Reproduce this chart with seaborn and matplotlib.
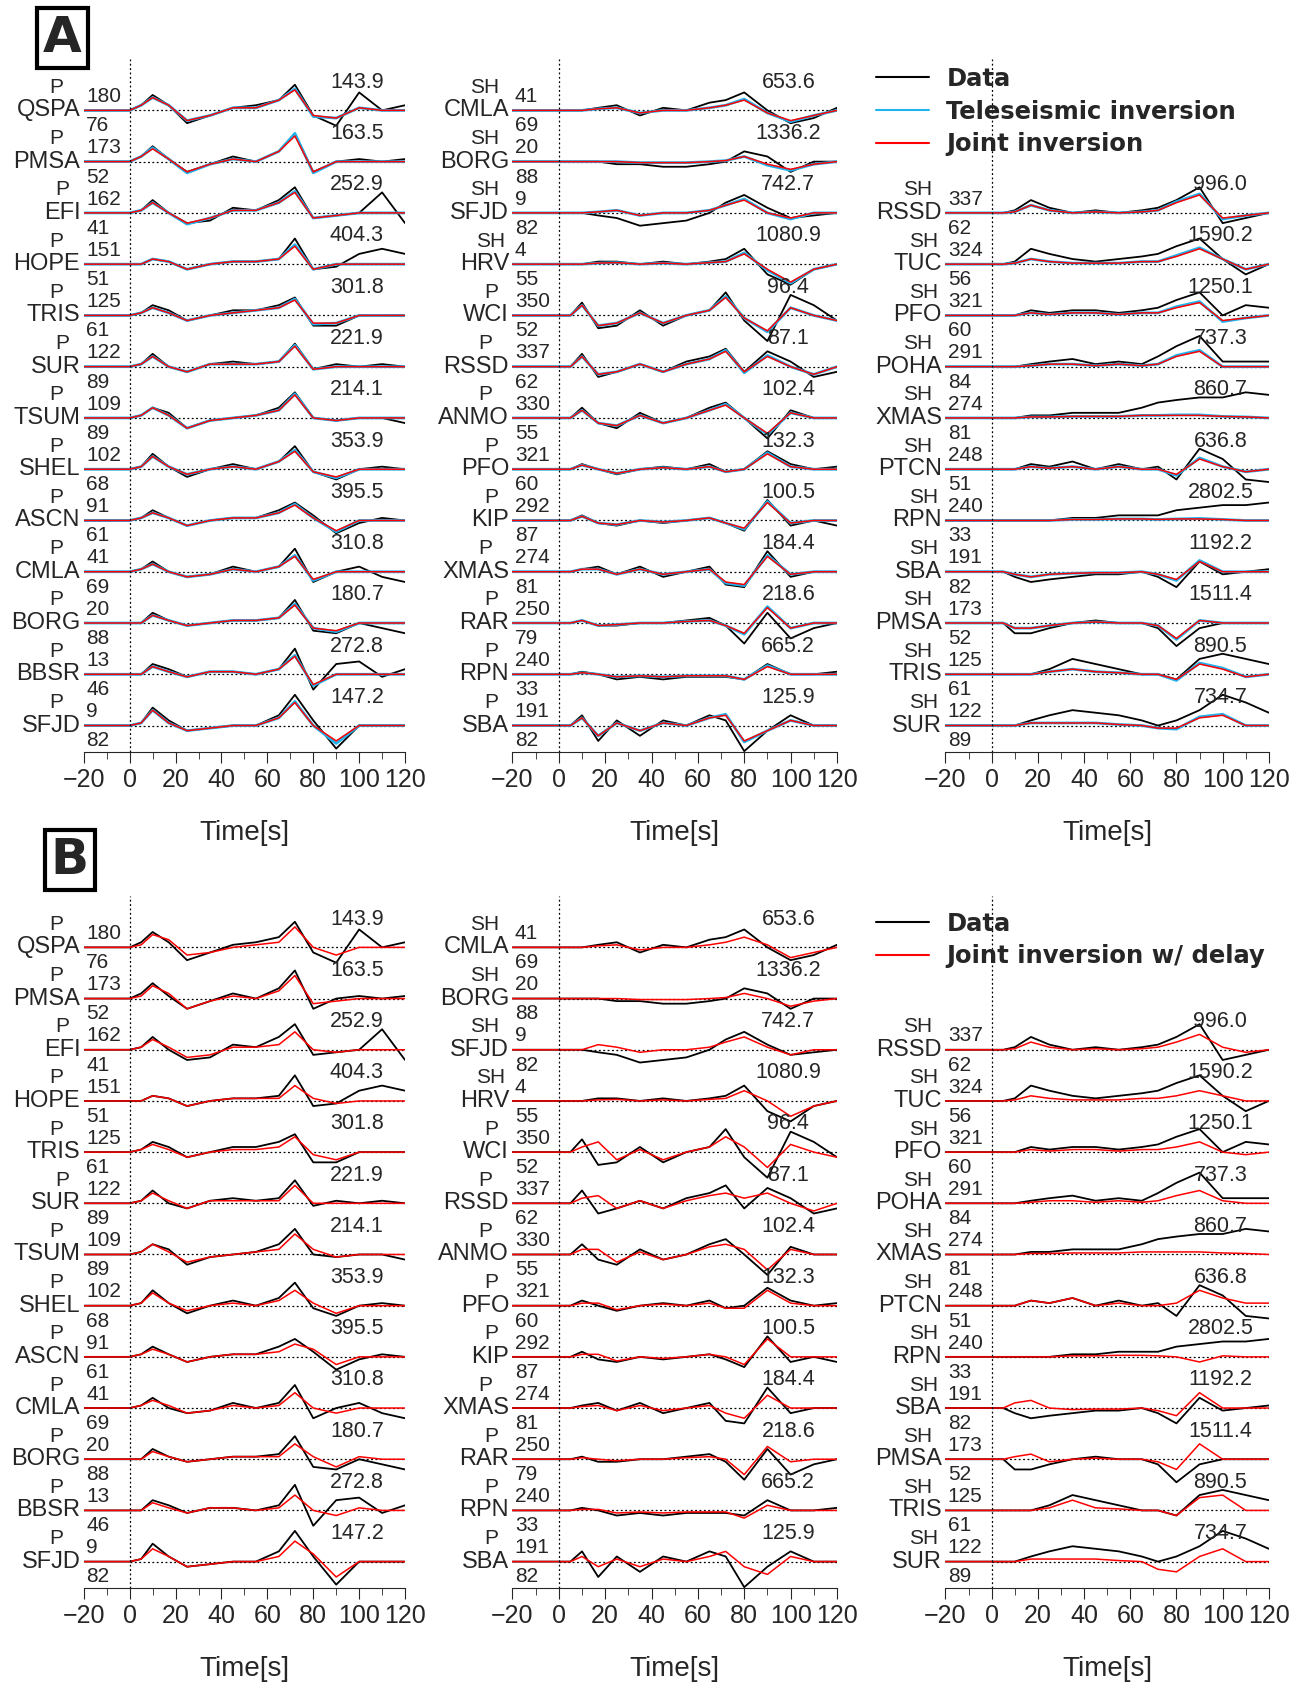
import numpy as np
import pandas as pd
import seaborn as sns
import matplotlib.pyplot as plt
from matplotlib.lines import Line2D

# sample times (s) of the waveform values, trace is flat before 0
T = [0, 5, 10, 17, 25, 35, 45, 55, 65, 72, 80, 90, 100, 110, 120]

# ---- station info per column: phase, name, azimuth, distance, amplitude
left_phase = ["P"] * 13
left_names = ["QSPA", "PMSA", "EFI", "HOPE", "TRIS", "SUR", "TSUM", "SHEL", "ASCN", "CMLA", "BORG", "BBSR", "SFJD"]
left_az = [180, 173, 162, 151, 125, 122, 109, 102, 91, 41, 20, 13, 9]
left_dist = [76, 52, 41, 51, 61, 89, 89, 68, 61, 69, 88, 46, 82]
left_amp = ["143.9", "163.5", "252.9", "404.3", "301.8", "221.9", "214.1", "353.9", "395.5", "310.8", "180.7", "272.8", "147.2"]

mid_phase = ["SH", "SH", "SH", "SH", "P", "P", "P", "P", "P", "P", "P", "P", "P"]
mid_names = ["CMLA", "BORG", "SFJD", "HRV", "WCI", "RSSD", "ANMO", "PFO", "KIP", "XMAS", "RAR", "RPN", "SBA"]
mid_az = [41, 20, 9, 4, 350, 337, 330, 321, 292, 274, 250, 240, 191]
mid_dist = [69, 88, 82, 55, 52, 62, 55, 60, 87, 81, 79, 33, 82]
mid_amp = ["653.6", "1336.2", "742.7", "1080.9", "96.4", "87.1", "102.4", "132.3", "100.5", "184.4", "218.6", "665.2", "125.9"]

right_phase = ["SH"] * 11
right_names = ["RSSD", "TUC", "PFO", "POHA", "XMAS", "PTCN", "RPN", "SBA", "PMSA", "TRIS", "SUR"]
right_az = [337, 324, 321, 291, 274, 248, 240, 191, 173, 125, 122]
right_dist = [62, 56, 60, 84, 81, 51, 33, 82, 52, 61, 89]
right_amp = ["996.0", "1590.2", "1250.1", "737.3", "860.7", "636.8", "2802.5", "1192.2", "1511.4", "890.5", "734.7"]

# ---- observed data (row spacing = 1)
left_data = [
    [0, 0.1, 0.3, 0.1, -0.25, -0.1, 0.05, 0.1, 0.2, 0.5, -0.1, -0.3, 0.35, 0.0, 0.1],
    [0, 0.1, 0.3, 0.05, -0.2, -0.05, 0.1, 0.0, 0.2, 0.55, -0.2, 0.0, 0.05, 0.0, 0.05],
    [0, 0.05, 0.25, 0.0, -0.2, -0.15, 0.1, 0.05, 0.25, 0.5, -0.1, -0.05, 0.0, 0.4, -0.2],
    [0, 0.0, 0.1, 0.05, -0.1, 0.0, 0.05, 0.05, 0.1, 0.5, -0.1, -0.05, 0.2, 0.3, 0.2],
    [0, 0.05, 0.2, 0.1, -0.1, 0.0, 0.1, 0.1, 0.2, 0.35, -0.2, -0.2, 0.0, 0.0, 0.0],
    [0, 0.05, 0.25, 0.0, -0.1, 0.05, 0.1, 0.05, 0.1, 0.45, -0.05, 0.05, 0.0, 0.05, 0.0],
    [0, 0.05, 0.2, 0.1, -0.2, -0.05, 0.0, 0.05, 0.2, 0.5, 0.0, -0.05, 0.0, 0.0, -0.1],
    [0, 0.05, 0.3, 0.05, -0.15, 0.0, 0.1, 0.0, 0.15, 0.45, -0.05, -0.2, 0.0, 0.05, 0.0],
    [0, 0.05, 0.2, 0.05, -0.1, 0.0, 0.05, 0.05, 0.2, 0.35, 0.1, -0.25, -0.05, 0.05, 0.0],
    [0, 0.05, 0.2, 0.0, -0.1, -0.05, 0.1, 0.0, 0.1, 0.45, -0.2, 0.0, 0.1, -0.1, -0.2],
    [0, 0.0, 0.2, 0.05, -0.05, 0.0, 0.05, 0.05, 0.1, 0.45, -0.15, -0.2, 0.0, -0.1, -0.2],
    [0, 0.0, 0.2, 0.1, -0.05, 0.05, 0.05, 0.0, 0.1, 0.5, -0.3, 0.2, 0.25, -0.05, 0.1],
    [0, 0.05, 0.35, 0.1, -0.1, -0.05, 0.0, 0.0, 0.2, 0.6, 0.1, -0.45, 0.0, 0.0, 0.0],
]
mid_data = [
    [0, 0, 0, 0.05, 0.1, -0.1, 0.05, 0.0, 0.15, 0.2, 0.35, 0.0, -0.25, -0.15, 0.05],
    [0, 0, 0, 0.0, -0.05, -0.05, -0.1, -0.1, -0.05, 0.0, 0.2, 0.1, -0.2, 0.0, 0.0],
    [0, 0, 0, -0.05, -0.1, -0.25, -0.2, -0.15, 0.0, 0.2, 0.35, 0.1, -0.1, -0.05, 0.0],
    [0, 0, 0, 0.05, 0.05, 0.0, 0.05, 0.0, 0.05, 0.1, 0.3, -0.2, -0.4, -0.1, 0.0],
    [0, 0, 0.25, -0.25, -0.2, 0.1, -0.2, 0.0, 0.1, 0.45, -0.1, -0.5, 0.4, 0.2, -0.1],
    [0, 0, 0.25, -0.2, -0.1, 0.05, -0.1, 0.1, 0.2, 0.35, -0.1, 0.3, 0.1, -0.2, -0.1],
    [0, 0, 0.2, -0.1, -0.2, 0.1, -0.1, 0.0, 0.2, 0.3, 0.0, -0.4, 0.15, 0.0, 0.0],
    [0, 0, 0.1, 0.0, -0.1, 0.0, 0.05, 0.0, 0.1, -0.05, 0.0, 0.35, 0.1, 0.0, 0.05],
    [0, 0, 0.1, -0.05, -0.1, 0.0, -0.05, 0.0, 0.05, -0.05, -0.2, 0.4, -0.1, 0.0, -0.1],
    [0, 0, 0.05, 0.1, -0.05, 0.1, -0.1, 0.0, 0.1, -0.25, -0.3, 0.4, -0.1, 0.0, 0.0],
    [0, 0, 0.05, -0.05, -0.05, 0.0, 0.0, 0.05, 0.1, -0.05, -0.4, 0.2, -0.3, -0.1, 0.0],
    [0, 0, 0.05, 0.0, -0.1, -0.05, -0.1, -0.05, -0.05, -0.05, -0.1, 0.2, 0.0, 0.0, 0.05],
    [0, 0, 0.2, -0.3, 0.1, -0.2, 0.1, 0.0, 0.2, 0.1, -0.5, -0.1, 0.2, 0.0, 0.0],
]
right_data = [
    [0, 0, 0.05, 0.25, 0.1, 0.0, 0.05, 0.0, 0.05, 0.1, 0.25, 0.5, -0.2, -0.1, 0.0],
    [0, 0, 0.05, 0.3, 0.2, 0.1, 0.05, 0.1, 0.15, 0.2, 0.35, 0.5, 0.1, -0.2, 0.0],
    [0, 0, 0.0, 0.1, 0.05, 0.1, 0.1, 0.05, 0.1, 0.15, 0.3, 0.45, 0.0, 0.2, 0.15],
    [0, 0, 0.0, 0.05, 0.1, 0.15, 0.05, 0.1, 0.05, 0.2, 0.4, 0.6, 0.1, 0.1, 0.1],
    [0, 0, 0.0, 0.05, 0.05, 0.1, 0.1, 0.1, 0.2, 0.3, 0.35, 0.4, 0.4, 0.5, 0.45],
    [0, 0, 0.0, 0.1, 0.05, 0.15, 0.0, 0.1, 0.0, 0.05, -0.2, 0.4, 0.2, -0.2, -0.25],
    [0, 0, 0.0, 0.0, 0.0, 0.05, 0.05, 0.1, 0.1, 0.1, 0.2, 0.25, 0.3, 0.3, 0.35],
    [0, 0, -0.1, -0.2, -0.15, -0.1, -0.05, -0.05, 0.0, -0.1, -0.3, 0.2, -0.05, 0.0, 0.05],
    [0, 0, -0.2, -0.2, -0.1, 0.0, 0.05, 0.0, 0.0, -0.1, -0.45, -0.1, 0.0, 0.0, 0.0],
    [0, 0, 0.0, 0.0, 0.1, 0.3, 0.2, 0.1, 0.0, 0.0, -0.1, 0.3, 0.4, 0.3, 0.2],
    [0, 0, 0.0, 0.1, 0.2, 0.3, 0.25, 0.2, 0.1, 0.0, 0.1, 0.3, 0.6, 0.45, 0.25],
]

# ---- joint inversion synthetics (panel A)
left_joint = [
    [0, 0.1, 0.25, 0.1, -0.2, -0.1, 0.05, 0.05, 0.2, 0.4, -0.1, -0.15, 0.05, 0.0, 0.0],
    [0, 0.1, 0.25, 0.05, -0.2, -0.05, 0.05, 0.0, 0.2, 0.5, -0.2, 0.0, 0.0, 0.0, 0.0],
    [0, 0.05, 0.2, 0.0, -0.2, -0.1, 0.05, 0.05, 0.2, 0.4, -0.1, -0.05, 0.0, 0.0, 0.0],
    [0, 0.0, 0.1, 0.05, -0.1, 0.0, 0.05, 0.05, 0.1, 0.35, -0.1, 0.0, 0.0, 0.0, 0.0],
    [0, 0.05, 0.15, 0.05, -0.1, 0.0, 0.05, 0.1, 0.15, 0.3, -0.15, -0.15, 0.0, 0.0, 0.0],
    [0, 0.05, 0.2, 0.0, -0.1, 0.05, 0.05, 0.05, 0.1, 0.4, -0.05, 0.0, 0.0, 0.0, 0.0],
    [0, 0.05, 0.2, 0.05, -0.2, -0.05, 0.0, 0.05, 0.15, 0.45, 0.0, -0.05, 0.0, 0.0, 0.0],
    [0, 0.05, 0.25, 0.05, -0.1, 0.0, 0.05, 0.0, 0.15, 0.35, -0.05, -0.15, 0.0, 0.0, 0.0],
    [0, 0.05, 0.15, 0.05, -0.1, 0.0, 0.05, 0.05, 0.15, 0.3, 0.05, -0.2, 0.0, 0.0, 0.0],
    [0, 0.05, 0.15, 0.0, -0.1, -0.05, 0.05, 0.0, 0.1, 0.3, -0.15, 0.0, 0.0, 0.0, 0.0],
    [0, 0.0, 0.15, 0.05, -0.05, 0.0, 0.05, 0.05, 0.1, 0.35, -0.1, -0.15, 0.0, 0.0, 0.0],
    [0, 0.0, 0.15, 0.05, -0.05, 0.05, 0.05, 0.0, 0.1, 0.35, -0.2, 0.0, 0.0, 0.0, 0.0],
    [0, 0.05, 0.3, 0.05, -0.1, -0.05, 0.0, 0.0, 0.15, 0.45, 0.0, -0.3, 0.0, 0.0, 0.0],
]
mid_joint = [
    [0, 0, 0, 0.03, 0.05, -0.05, 0.0, 0.0, 0.05, 0.1, 0.2, -0.05, -0.2, -0.1, 0.0],
    [0, 0, 0, 0.0, 0.0, -0.02, -0.02, -0.02, 0.0, 0.02, 0.1, -0.05, -0.15, -0.05, 0.0],
    [0, 0, 0, 0.02, 0.05, -0.05, 0.0, 0.0, 0.05, 0.15, 0.25, 0.0, -0.1, 0.0, 0.0],
    [0, 0, 0, 0.02, 0.03, 0.0, 0.02, 0.0, 0.03, 0.05, 0.2, -0.1, -0.35, -0.1, 0.0],
    [0, 0, 0.2, -0.2, -0.15, 0.05, -0.15, 0.0, 0.1, 0.35, -0.05, -0.3, 0.15, 0.0, -0.1],
    [0, 0, 0.2, -0.15, -0.1, 0.05, -0.1, 0.05, 0.15, 0.3, -0.1, 0.2, 0.0, -0.15, 0.0],
    [0, 0, 0.15, -0.1, -0.15, 0.05, -0.1, 0.0, 0.15, 0.25, 0.0, -0.3, 0.1, 0.0, 0.0],
    [0, 0, 0.08, 0.0, -0.08, 0.0, 0.03, 0.0, 0.05, -0.05, 0.0, 0.3, 0.05, 0.0, 0.0],
    [0, 0, 0.08, -0.05, -0.08, 0.0, -0.03, 0.0, 0.05, -0.05, -0.15, 0.35, -0.05, 0.0, 0.0],
    [0, 0, 0.05, 0.05, -0.05, 0.05, -0.05, 0.0, 0.05, -0.2, -0.25, 0.3, -0.05, 0.0, 0.0],
    [0, 0, 0.05, -0.05, -0.03, 0.0, 0.0, 0.03, 0.05, -0.05, -0.2, 0.3, -0.1, 0.0, 0.0],
    [0, 0, 0.03, 0.0, -0.05, -0.03, -0.05, -0.03, -0.03, -0.03, -0.1, 0.15, 0.0, 0.0, 0.0],
    [0, 0, 0.15, -0.2, 0.05, -0.1, 0.05, 0.0, 0.15, 0.2, -0.3, -0.1, 0.1, 0.0, 0.0],
]
right_joint = [
    [0, 0, 0.02, 0.15, 0.05, 0.0, 0.02, 0.0, 0.02, 0.05, 0.2, 0.35, -0.1, -0.05, 0.0],
    [0, 0, 0.02, 0.1, 0.05, 0.02, 0.02, 0.02, 0.05, 0.05, 0.15, 0.3, 0.1, -0.1, 0.0],
    [0, 0, 0.0, 0.05, 0.02, 0.05, 0.05, 0.02, 0.05, 0.05, 0.15, 0.25, -0.1, -0.05, 0.0],
    [0, 0, 0.0, 0.02, 0.05, 0.05, 0.02, 0.05, 0.02, 0.05, 0.2, 0.3, 0.0, 0.0, 0.0],
    [0, 0, 0.0, 0.02, 0.02, 0.03, 0.03, 0.03, 0.05, 0.05, 0.05, 0.05, 0.03, 0.02, 0.0],
    [0, 0, 0.0, 0.05, 0.02, 0.05, 0.0, 0.05, 0.0, 0.0, -0.1, 0.2, 0.05, -0.05, 0.0],
    [0, 0, 0.0, 0.0, 0.0, 0.02, 0.02, 0.03, 0.03, 0.02, 0.03, 0.03, 0.02, 0.0, 0.0],
    [0, 0, -0.05, -0.1, -0.05, -0.03, -0.02, -0.02, 0.0, -0.05, -0.15, 0.2, 0.0, 0.0, 0.0],
    [0, 0, -0.1, -0.1, -0.05, 0.0, 0.02, 0.0, 0.0, -0.05, -0.3, 0.05, 0.0, 0.0, 0.0],
    [0, 0, 0.0, 0.0, 0.05, 0.1, 0.05, 0.03, 0.0, 0.0, -0.1, 0.2, 0.1, -0.05, 0.0],
    [0, 0, 0.0, 0.05, 0.05, 0.05, 0.05, 0.02, 0.0, -0.05, -0.05, 0.15, 0.2, 0.0, 0.0],
]

# ---- teleseismic inversion synthetics (panel A)
left_tele = [
    [0, 0.1, 0.25, 0.1, -0.2, -0.1, 0.05, 0.05, 0.2, 0.42, -0.12, -0.15, 0.05, 0.0, 0.0],
    [0, 0.1, 0.27, 0.05, -0.22, -0.05, 0.05, 0.0, 0.2, 0.55, -0.22, 0.0, 0.0, 0.0, 0.0],
    [0, 0.05, 0.2, 0.0, -0.22, -0.1, 0.05, 0.05, 0.2, 0.42, -0.1, -0.05, 0.0, 0.0, 0.0],
    [0, 0.0, 0.1, 0.05, -0.1, 0.0, 0.05, 0.05, 0.1, 0.38, -0.1, 0.0, 0.0, 0.0, 0.0],
    [0, 0.05, 0.15, 0.05, -0.1, 0.0, 0.05, 0.1, 0.15, 0.32, -0.17, -0.15, 0.0, 0.0, 0.0],
    [0, 0.05, 0.2, 0.0, -0.1, 0.05, 0.05, 0.05, 0.1, 0.42, -0.05, 0.0, 0.0, 0.0, 0.0],
    [0, 0.05, 0.2, 0.05, -0.2, -0.05, 0.0, 0.05, 0.15, 0.47, 0.0, -0.05, 0.0, 0.0, 0.0],
    [0, 0.05, 0.25, 0.05, -0.1, 0.0, 0.05, 0.0, 0.15, 0.37, -0.05, -0.17, 0.0, 0.0, 0.0],
    [0, 0.05, 0.15, 0.05, -0.1, 0.0, 0.05, 0.05, 0.15, 0.32, 0.05, -0.22, 0.0, 0.0, 0.0],
    [0, 0.05, 0.15, 0.0, -0.1, -0.05, 0.05, 0.0, 0.1, 0.32, -0.17, 0.0, 0.0, 0.0, 0.0],
    [0, 0.0, 0.15, 0.05, -0.05, 0.0, 0.05, 0.05, 0.1, 0.37, -0.1, -0.17, 0.0, 0.0, 0.0],
    [0, 0.0, 0.15, 0.05, -0.05, 0.05, 0.05, 0.0, 0.1, 0.37, -0.22, 0.0, 0.0, 0.0, 0.0],
    [0, 0.05, 0.3, 0.05, -0.1, -0.05, 0.0, 0.0, 0.15, 0.47, 0.0, -0.35, 0.0, 0.0, 0.0],
]
mid_tele = [
    [0, 0, 0, 0.03, 0.05, -0.05, 0.0, 0.0, 0.05, 0.1, 0.22, -0.05, -0.22, -0.1, 0.0],
    [0, 0, 0, 0.0, 0.0, -0.02, -0.02, -0.02, 0.0, 0.02, 0.1, -0.07, -0.17, -0.05, 0.0],
    [0, 0, 0, 0.02, 0.05, -0.05, 0.0, 0.0, 0.05, 0.15, 0.27, 0.0, -0.12, 0.0, 0.0],
    [0, 0, 0, 0.02, 0.03, 0.0, 0.02, 0.0, 0.03, 0.05, 0.22, -0.12, -0.37, -0.1, 0.0],
    [0, 0, 0.2, -0.2, -0.15, 0.05, -0.15, 0.0, 0.1, 0.37, -0.05, -0.32, 0.15, 0.0, -0.1],
    [0, 0, 0.2, -0.15, -0.1, 0.05, -0.1, 0.05, 0.15, 0.32, -0.12, 0.22, 0.0, -0.15, 0.0],
    [0, 0, 0.15, -0.1, -0.15, 0.05, -0.1, 0.0, 0.15, 0.27, 0.0, -0.32, 0.1, 0.0, 0.0],
    [0, 0, 0.08, 0.0, -0.08, 0.0, 0.03, 0.0, 0.05, -0.05, 0.0, 0.32, 0.05, 0.0, 0.0],
    [0, 0, 0.08, -0.05, -0.08, 0.0, -0.03, 0.0, 0.05, -0.05, -0.17, 0.37, -0.05, 0.0, 0.0],
    [0, 0, 0.05, 0.05, -0.05, 0.05, -0.05, 0.0, 0.05, -0.22, -0.27, 0.32, -0.05, 0.0, 0.0],
    [0, 0, 0.05, -0.05, -0.03, 0.0, 0.0, 0.03, 0.05, -0.05, -0.22, 0.32, -0.1, 0.0, 0.0],
    [0, 0, 0.03, 0.0, -0.05, -0.03, -0.05, -0.03, -0.03, -0.03, -0.1, 0.17, 0.0, 0.0, 0.0],
    [0, 0, 0.15, -0.2, 0.05, -0.1, 0.05, 0.0, 0.15, 0.22, -0.32, -0.1, 0.1, 0.0, 0.0],
]
right_tele = [
    [0, 0, 0.02, 0.15, 0.05, 0.0, 0.02, 0.0, 0.02, 0.05, 0.22, 0.37, -0.12, -0.05, 0.0],
    [0, 0, 0.02, 0.1, 0.05, 0.02, 0.02, 0.02, 0.05, 0.05, 0.17, 0.32, 0.1, -0.1, 0.0],
    [0, 0, 0.0, 0.05, 0.02, 0.05, 0.05, 0.02, 0.05, 0.05, 0.17, 0.27, -0.12, -0.05, 0.0],
    [0, 0, 0.0, 0.02, 0.05, 0.05, 0.02, 0.05, 0.02, 0.05, 0.22, 0.32, 0.0, 0.0, 0.0],
    [0, 0, 0.0, 0.02, 0.02, 0.03, 0.03, 0.03, 0.05, 0.05, 0.06, 0.06, 0.03, 0.02, 0.0],
    [0, 0, 0.0, 0.05, 0.02, 0.05, 0.0, 0.05, 0.0, 0.0, -0.12, 0.22, 0.05, -0.05, 0.0],
    [0, 0, 0.0, 0.0, 0.0, 0.02, 0.02, 0.03, 0.03, 0.02, 0.03, 0.04, 0.02, 0.0, 0.0],
    [0, 0, -0.05, -0.1, -0.05, -0.03, -0.02, -0.02, 0.0, -0.05, -0.17, 0.22, 0.0, 0.0, 0.0],
    [0, 0, -0.1, -0.1, -0.05, 0.0, 0.02, 0.0, 0.0, -0.05, -0.32, 0.05, 0.0, 0.0, 0.0],
    [0, 0, 0.0, 0.0, 0.05, 0.1, 0.05, 0.03, 0.0, 0.0, -0.12, 0.22, 0.12, -0.05, 0.0],
    [0, 0, 0.0, 0.05, 0.05, 0.05, 0.05, 0.02, 0.0, -0.05, -0.07, 0.17, 0.22, 0.0, 0.0],
]

# ---- joint inversion with delay (panel B)
left_delay = [
    [0, 0.05, 0.25, 0.15, -0.15, -0.1, 0.0, 0.05, 0.1, 0.4, 0.0, -0.15, 0.0, 0.0, 0.0],
    [0, 0.05, 0.25, 0.1, -0.2, -0.05, 0.05, 0.0, 0.15, 0.45, -0.1, -0.05, 0.0, 0.0, 0.0],
    [0, 0.05, 0.2, 0.05, -0.15, -0.1, 0.05, 0.05, 0.1, 0.35, 0.0, -0.05, 0.0, 0.0, 0.0],
    [0, 0.0, 0.1, 0.05, -0.1, 0.0, 0.05, 0.05, 0.05, 0.3, 0.05, -0.05, 0.0, 0.0, 0.0],
    [0, 0.05, 0.15, 0.05, -0.1, 0.0, 0.05, 0.05, 0.1, 0.3, -0.05, -0.15, 0.0, 0.0, 0.0],
    [0, 0.05, 0.2, 0.05, -0.1, 0.05, 0.05, 0.05, 0.05, 0.35, 0.0, 0.0, 0.0, 0.0, 0.0],
    [0, 0.05, 0.2, 0.05, -0.15, -0.05, 0.0, 0.05, 0.1, 0.4, 0.1, -0.05, 0.0, 0.0, 0.0],
    [0, 0.05, 0.25, 0.05, -0.1, 0.0, 0.05, 0.0, 0.1, 0.3, 0.05, -0.15, 0.0, 0.0, 0.0],
    [0, 0.05, 0.15, 0.05, -0.1, 0.0, 0.05, 0.05, 0.1, 0.25, 0.15, -0.15, 0.0, 0.0, 0.0],
    [0, 0.05, 0.15, 0.05, -0.1, -0.05, 0.05, 0.0, 0.05, 0.3, 0.0, -0.1, 0.0, 0.0, 0.0],
    [0, 0.0, 0.15, 0.05, -0.05, 0.0, 0.05, 0.05, 0.05, 0.3, 0.05, -0.15, 0.05, 0.0, 0.0],
    [0, 0.0, 0.15, 0.05, -0.05, 0.05, 0.05, 0.0, 0.05, 0.3, 0.0, -0.1, 0.05, 0.0, 0.0],
    [0, 0.05, 0.25, 0.1, -0.1, -0.05, 0.0, 0.0, 0.1, 0.4, 0.15, -0.3, 0.0, 0.0, 0.0],
]
mid_delay = [
    [0, 0, 0, 0.03, 0.05, -0.05, 0.0, 0.0, 0.05, 0.1, 0.2, 0.05, -0.2, -0.1, 0.0],
    [0, 0, 0, 0.0, 0.0, -0.02, -0.02, -0.02, 0.0, 0.02, 0.1, 0.0, -0.15, -0.05, 0.0],
    [0, 0, 0, 0.1, 0.05, -0.05, 0.0, 0.0, 0.05, 0.15, 0.25, 0.05, -0.1, 0.0, 0.0],
    [0, 0, 0, 0.02, 0.03, 0.0, 0.02, 0.0, 0.03, 0.05, 0.2, 0.0, -0.3, -0.1, 0.0],
    [0, 0, 0.1, 0.2, -0.15, 0.05, -0.15, 0.0, 0.1, 0.3, 0.1, -0.3, 0.15, 0.0, -0.1],
    [0, 0, 0.1, 0.15, -0.1, 0.05, -0.1, 0.05, 0.15, 0.2, 0.1, 0.2, 0.0, -0.15, 0.0],
    [0, 0, 0.1, 0.1, -0.15, 0.05, -0.1, 0.0, 0.15, 0.2, 0.1, -0.3, 0.1, 0.0, 0.0],
    [0, 0, 0.05, 0.05, -0.08, 0.0, 0.03, 0.0, 0.05, -0.05, -0.05, 0.3, 0.05, 0.0, 0.0],
    [0, 0, 0.05, 0.05, -0.08, 0.0, -0.03, 0.0, 0.05, 0.0, -0.15, 0.35, 0.0, 0.0, 0.0],
    [0, 0, 0.03, 0.05, -0.05, 0.05, -0.05, 0.0, 0.05, -0.1, -0.2, 0.25, 0.0, 0.0, 0.0],
    [0, 0, 0.03, 0.0, -0.03, 0.0, 0.0, 0.03, 0.05, 0.0, -0.3, 0.25, -0.05, 0.0, 0.0],
    [0, 0, 0.02, 0.02, -0.05, -0.03, -0.05, -0.03, -0.03, -0.03, -0.15, 0.1, 0.0, 0.0, 0.0],
    [0, 0, 0.1, -0.1, 0.05, -0.1, 0.05, 0.0, 0.1, 0.2, -0.1, -0.25, 0.1, 0.0, 0.0],
]
right_delay = [
    [0, 0, 0.02, 0.15, 0.05, 0.0, 0.02, 0.0, 0.02, 0.05, 0.15, 0.3, 0.05, -0.05, 0.0],
    [0, 0, 0.02, 0.1, 0.05, 0.02, 0.02, 0.02, 0.05, 0.05, 0.1, 0.2, 0.1, 0.0, 0.0],
    [0, 0, 0.0, 0.05, 0.02, 0.05, 0.05, 0.02, 0.05, 0.05, 0.1, 0.2, 0.0, -0.05, 0.0],
    [0, 0, 0.0, 0.02, 0.05, 0.05, 0.02, 0.05, 0.02, 0.05, 0.15, 0.25, 0.05, 0.0, 0.0],
    [0, 0, 0.0, 0.02, 0.02, 0.03, 0.03, 0.03, 0.05, 0.05, 0.05, 0.05, 0.03, 0.02, 0.0],
    [0, 0, 0.0, 0.1, 0.05, 0.15, 0.0, 0.05, 0.0, 0.0, 0.05, 0.3, 0.15, 0.05, 0.05],
    [0, 0, 0.0, 0.0, 0.0, 0.02, 0.02, 0.03, 0.03, 0.02, 0.0, -0.1, 0.02, 0.0, 0.0],
    [0, 0, 0.1, 0.15, 0.0, -0.03, -0.02, -0.02, 0.0, -0.05, -0.15, 0.3, 0.0, 0.0, 0.0],
    [0, 0, 0.05, 0.1, -0.05, 0.0, 0.02, 0.0, 0.0, -0.05, -0.2, 0.3, 0.0, 0.0, 0.0],
    [0, 0, 0.0, 0.0, 0.05, 0.2, 0.05, 0.03, 0.0, 0.0, -0.1, 0.25, 0.3, 0.0, 0.0],
    [0, 0, 0.0, 0.05, 0.05, 0.05, 0.05, 0.02, 0.0, -0.15, -0.2, 0.1, 0.25, 0.0, 0.0],
]

sns.set_style("white")
plt.rcParams["font.family"] = ["Liberation Sans", "DejaVu Sans"]

fig = plt.figure(figsize=(13, 16.86), dpi=100)

# layout measured on the reference (its pixel grid is 1210 x 1569)
W, H = 1210.0, 1569.0
col_x = [(78, 299), (477, 302), (880, 301)]
TEAL = "#1fb4f0"


def make_axes(top_px, bottom_px):
    axes = []
    for x0, w in col_x:
        ax = fig.add_axes([x0 / W, 1 - bottom_px / H, w / W, (bottom_px - top_px) / H])
        axes.append(ax)
    return axes


def draw_column(ax, first_row, phases, names, azs, dists, amps, data, synths):
    tt = [-20] + T
    for i, name in enumerate(names):
        y0 = -(first_row + i)
        ax.plot([0, 120], [y0, y0], color="black", lw=0.9, ls=(0, (1.5, 2)))
        sns.lineplot(x=tt, y=[y0] + [y0 + v for v in data[i]], ax=ax, color="black", lw=1.3)
        for vals, c, lw in synths:
            sns.lineplot(x=tt, y=[y0] + [y0 + v for v in vals[i]], ax=ax, color=c, lw=lw)
        ax.text(-21.5, y0, name, ha="right", va="center", fontsize=17)
        ax.text(-21.5 - len(name) * 2.6, y0 + 0.45, phases[i], ha="center", va="center", fontsize=15)
        ax.text(-19, y0 + 0.27, str(azs[i]), ha="left", va="center", fontsize=15)
        ax.text(-19, y0 - 0.3, str(dists[i]), ha="left", va="center", fontsize=15)
        ax.text(99, y0 + 0.55, amps[i], ha="center", va="center", fontsize=15.5)
    ax.axvline(0, color="black", lw=0.9, ls=(0, (1.5, 2)))
    ax.set_xlim(-20, 120)
    ax.set_ylim(-12.52, 1.0)
    for s in ["top", "right", "left"]:
        ax.spines[s].set_visible(False)
    ax.set_yticks([])
    ax.set_xticks(np.arange(-20, 121, 20))
    ax.set_xticks(np.arange(-20, 121, 10), minor=True)
    ax.tick_params(axis="x", which="major", length=8, labelsize=18, direction="out", bottom=True)
    ax.tick_params(axis="x", which="minor", length=5, bottom=True)
    ax.set_xlabel("Time[s]", fontsize=20, labelpad=20)


axA = make_axes(55, 700)
axB = make_axes(834, 1478)

cols = [
    (0, left_phase, left_names, left_az, left_dist, left_amp, left_data, left_tele, left_joint, left_delay),
    (0, mid_phase, mid_names, mid_az, mid_dist, mid_amp, mid_data, mid_tele, mid_joint, mid_delay),
    (2, right_phase, right_names, right_az, right_dist, right_amp, right_data, right_tele, right_joint, right_delay),
]
for k, (r0, ph, nm, az, ds, am, d, tele, joint, delay) in enumerate(cols):
    draw_column(axA[k], r0, ph, nm, az, ds, am, d, [(tele, TEAL, 2.0), (joint, "red", 1.1)])
    draw_column(axB[k], r0, ph, nm, az, ds, am, d, [(delay, "red", 1.1)])

for lab, (x, y) in [("A", (58, 35)), ("B", (65, 800))]:
    fig.text(x / W, 1 - y / H, lab, fontsize=36, fontweight="bold", ha="center", va="center",
             family="DejaVu Sans",
             bbox=dict(boxstyle="square,pad=0.12", fc="white", ec="black", lw=3))

leg_font = {"weight": "bold", "size": 17.5, "family": "DejaVu Sans"}
hA = [Line2D([], [], color="black", lw=1.5), Line2D([], [], color=TEAL, lw=1.5), Line2D([], [], color="red", lw=1.5)]
fig.legend(hA, ["Data", "Teleseismic inversion", "Joint inversion"], loc="upper left",
           bbox_to_anchor=(795 / W, 1 - 42 / H), frameon=False, prop=leg_font,
           handlelength=2.2, labelspacing=0.35, handletextpad=0.7)
hB = [Line2D([], [], color="black", lw=1.5), Line2D([], [], color="red", lw=1.5)]
fig.legend(hB, ["Data", "Joint inversion w/ delay"], loc="upper left",
           bbox_to_anchor=(795 / W, 1 - 828 / H), frameon=False, prop=leg_font,
           handlelength=2.2, labelspacing=0.35, handletextpad=0.7)

fig.savefig("out.png", dpi=100)
